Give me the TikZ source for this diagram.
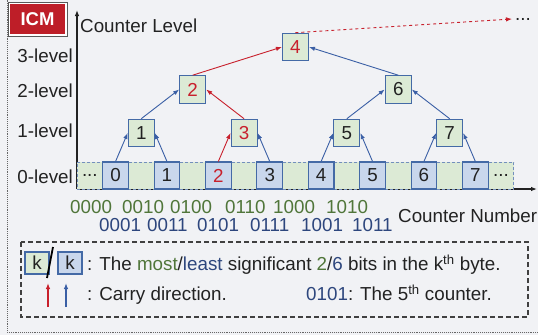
\documentclass[tikz,border=0pt]{standalone}
\usepackage{fontspec}
\setmainfont{Liberation Sans}
\usetikzlibrary{arrows.meta}
\definecolor{bgc}{RGB}{241,242,245}
\definecolor{cellgreen}{RGB}{220,234,213}
\definecolor{cellblue}{RGB}{201,215,236}
\definecolor{edgeblue}{RGB}{68,106,166}
\definecolor{arrblue}{RGB}{58,95,165}
\definecolor{carryred}{RGB}{200,32,44}
\definecolor{txtgreen}{RGB}{80,118,58}
\definecolor{txtblue}{RGB}{45,70,125}
\definecolor{icmred}{RGB}{190,30,40}
\definecolor{ink}{RGB}{34,34,34}
\begin{document}
\begin{tikzpicture}[x=1pt,y=-1pt,
  font=\fontsize{18.8}{22}\selectfont, text=ink,
  bytecell/.style={minimum width=25.7pt, minimum height=27pt, inner sep=0pt},
  gcell/.style={bytecell, fill=cellgreen, draw=edgeblue!75, dash pattern=on 3pt off 2pt, line width=0.9pt},
  bcell/.style={bytecell, fill=cellblue, draw=edgeblue, line width=1.1pt},
  lvl/.style={draw=edgeblue, line width=1.1pt, fill=cellgreen, minimum width=26pt, minimum height=27.5pt, inner sep=0pt},
  carry/.style={-{Latex[length=6pt,width=4.5pt]}, line width=0.9pt, draw=arrblue},
  carryr/.style={carry, draw=carryred},
  lvllabel/.style={anchor=base east},
  bingreen/.style={anchor=base west, text=txtgreen, inner sep=0pt},
  binblue/.style={anchor=base west, text=txtblue, inner sep=0pt},
  axisline/.style={line width=1.1pt, draw=ink, -{Latex[length=6pt,width=4.5pt]}}
]
% canvas
\useasboundingbox (0,0) rectangle (538,335);
\clip (0,0) rectangle (538,335);
\fill[bgc] (0,0) rectangle (538,335);
\draw[densely dotted, line width=0.9pt, draw=black!60] (7,-10) rectangle (560,332);

% tag
\node[draw=black!65, line width=0.8pt, fill=white, minimum width=59pt, minimum height=34pt, inner sep=0pt] (tagframe) at (37.5,19) {};
\node[fill=icmred, minimum width=55pt, minimum height=30pt, inner sep=0pt, text=white, font=\fontsize{18.5}{22}\selectfont\bfseries] (tag) at (37.5,19) {ICM};

% axes
\coordinate (origin) at (77,189);
\coordinate (ytop) at (77,10);
\coordinate (xend) at (537,189);
\draw[axisline] (origin) -- (ytop);
\draw[axisline] (origin) -- (xend);
\node[anchor=base west, inner sep=0pt] (ylab) at (80,32) {Counter Level};
\node[anchor=base west, inner sep=0pt] (xlab) at (398,222) {Counter Number};

\node[lvllabel, inner sep=0pt] (l3) at (73,62) {3-level};
\node[lvllabel, inner sep=0pt] (l2) at (73,97) {2-level};
\node[lvllabel, inner sep=0pt] (l1) at (73,137) {1-level};
\node[lvllabel, inner sep=0pt] (l0) at (73,183) {0-level};

% byte cells: green (upper bits), blue (lower bits holding 0-level counters)
\foreach \i in {0,2,...,16}
  \node[gcell] (c\i) at ({77+25.7*(\i+0.5)},175.5) {};
\node at (c0) {...};
\node at (c16) {...};
\foreach \i in {1,3,...,15}{
  \pgfmathtruncatemacro{\k}{(\i-1)/2}
  \node[bcell] (c\i) at ({77+25.7*(\i+0.5)},175.5) {\ifnum\k=2 \textcolor{carryred}{\k}\else\k\fi};
}

% higher-level counters
\node[lvl] (n1) at (141.25,133) {1};
\node[lvl] (n3) at (244.05,133) {\textcolor{carryred}{3}};
\node[lvl] (n5) at (346.85,133) {5};
\node[lvl] (n7) at (449.65,133) {7};
\node[lvl] (n2) at (192.65,89.5) {\textcolor{carryred}{2}};
\node[lvl] (n6) at (398.25,89.5) {6};
\node[lvl] (n4) at (295.45,47) {\textcolor{carryred}{4}};

% carries
\draw[carry]  (c1.north)  -- (n1.west);
\draw[carry]  (c3.north)  -- (n1.east);
\draw[carryr] (c5.north)  -- (n3.west);
\draw[carry]  (c7.north)  -- (n3.east);
\draw[carry]  (c9.north)  -- (n5.west);
\draw[carry]  (c11.north) -- (n5.east);
\draw[carry]  (c13.north) -- (n7.west);
\draw[carry]  (c15.north) -- (n7.east);
\draw[carry]  (n1.north) -- (n2.west);
\draw[carryr] (n3.north) -- (n2.east);
\draw[carry]  (n5.north) -- (n6.west);
\draw[carry]  (n7.north) -- (n6.east);
\draw[carryr] (n2.north) -- (n4.west);
\draw[carry]  (n6.north) -- (n4.east);
\coordinate (more) at (512,19);
\draw[carryr, dashed] (n4.north) -- (more);
\node[anchor=base west, inner sep=0pt] (moredots) at (515,20.5) {...};

% byte addresses
\node[bingreen] (g0) at (70,213) {0000};
\node[bingreen] (g1) at (122,213) {0010};
\node[bingreen] (g2) at (170,213) {0100};
\node[bingreen] (g3) at (225,213) {0110};
\node[bingreen] (g4) at (273,213) {1000};
\node[bingreen] (g5) at (326,213) {1010};
\node[binblue] (b0) at (99,231.5) {0001};
\node[binblue] (b1) at (147,231.5) {0011};
\node[binblue] (b2) at (197,231.5) {0101};
\node[binblue] (b3) at (250,231.5) {0111};
\node[binblue] (b4) at (301,231.5) {1001};
\node[binblue] (b5) at (352,231.5) {1011};

% legend
\draw[dashed, dash pattern=on 5pt off 3pt, line width=1.1pt, draw=black!75] (21,242) rectangle (528,317);
\node[draw=edgeblue, line width=1.1pt, fill=cellgreen, minimum width=24pt, minimum height=22pt, inner sep=0pt] (kg) at (37,263) {k};
\node[draw=edgeblue, line width=1.1pt, fill=cellblue, minimum width=24pt, minimum height=22pt, inner sep=0pt] (kb) at (70,263) {k};
\coordinate (slashtop) at (53,247);
\coordinate (slashbot) at (47,278);
\draw[line width=1.8pt, draw=black] (slashtop) -- (slashbot);
\node[anchor=base west, inner sep=0pt] (leg1) at (87,270.5) {: The \textcolor{txtgreen}{most}/\textcolor{txtblue}{least} significant \textcolor{txtgreen}{2}/\textcolor{txtblue}{6} bits in the k\textsuperscript{th} byte.};
\coordinate (ra) at (48,307);
\coordinate (rb) at (48,283);
\coordinate (ba) at (66,307);
\coordinate (bb) at (66,283);
\draw[carryr, line width=1.2pt] (ra) -- (rb);
\draw[carry, line width=1.2pt] (ba) -- (bb);
\node[anchor=base west, inner sep=0pt] (leg2) at (87,300.5) {: Carry direction.};
\node[anchor=base west, inner sep=0pt] (leg3) at (306,300.5) {\textcolor{txtblue}{0101}: The 5\textsuperscript{th} counter.};
\end{tikzpicture}
\end{document}
